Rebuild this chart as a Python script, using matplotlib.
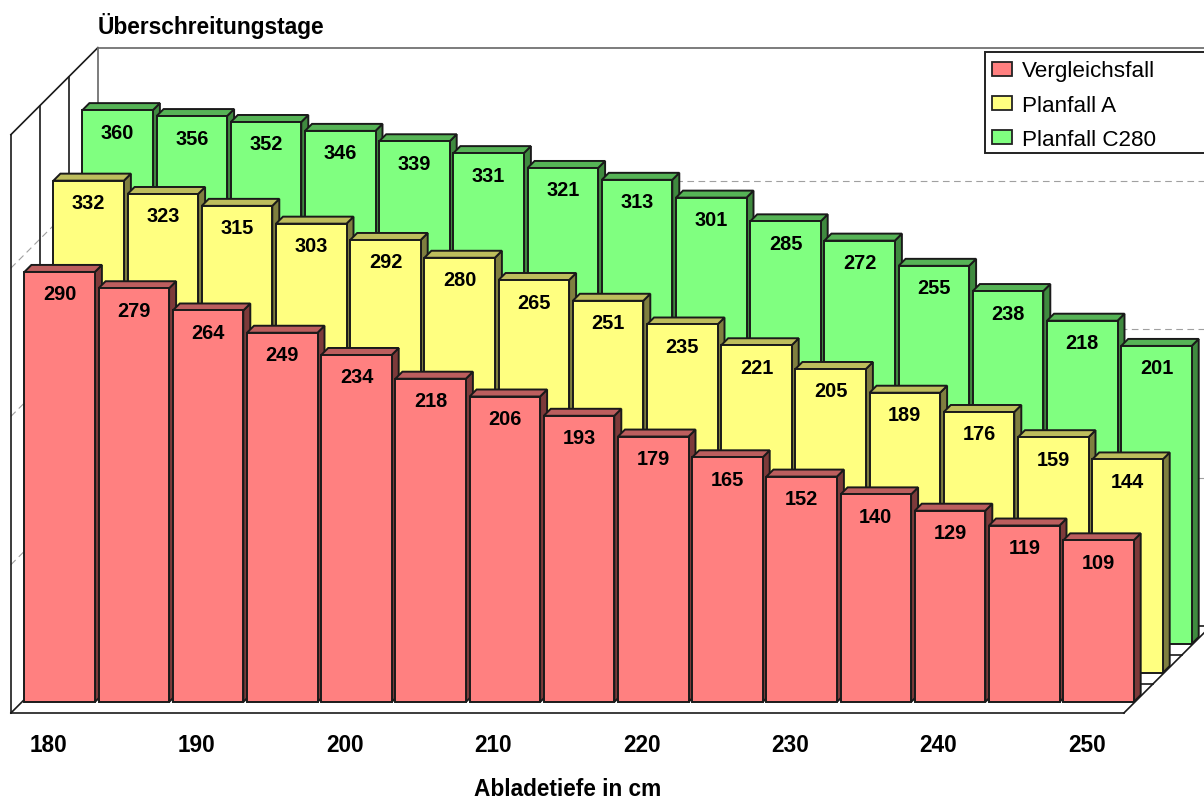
import matplotlib
matplotlib.use('Agg')
import matplotlib.pyplot as plt
from matplotlib.patches import Polygon, Rectangle

plt.rcParams['font.family'] = ['Liberation Sans', 'DejaVu Sans']

# chart values
depths_cm = [180, 185, 190, 195, 200, 205, 210, 215, 220, 225, 230, 235, 240, 245, 250]
vergleichsfall = [290, 279, 264, 249, 234, 218, 206, 193, 179, 165, 152, 140, 129, 119, 109]
planfall_a = [332, 323, 315, 303, 292, 280, 265, 251, 235, 221, 205, 189, 176, 159, 144]
planfall_c280 = [360, 356, 352, 346, 339, 331, 321, 313, 301, 285, 272, 255, 238, 218, 201]
series_names = ['Vergleichsfall', 'Planfall A', 'Planfall C280']
grid_values = [100, 200, 300]
y_top = 390

# pixel sizes of one category and one day on the sheet
W, H = 1204, 801
px_cat = 74.2
px_day = 1.483
x0_px, y0_px = 48, 713

colors = ['#FF8080', '#FFFF80', '#80FF80']
top_colors = ['#BC5E5E', '#BDBD5C', '#56B356']
side_colors = ['#7D3A3A', '#7F7F3F', '#3F8A3F']
edge = '#1a1a1a'


def dx(px):
    return px / px_cat


def dy(px):
    return px / px_day


fig = plt.figure(figsize=(W / 100, H / 100), dpi=100, facecolor='white')
ax = fig.add_axes([0, 0, 1, 1])
ax.set_xlim(-dx(x0_px), dx(W - x0_px))
ax.set_ylim(-dy(H - y0_px), dy(y0_px))
ax.axis('off')

left = -0.5
n = len(depths_cm)
right = left + n
depth = 29  # one row of bars, in pixels

# walls and floor
wall = dict(color='#1a1a1a', lw=1.2, zorder=0.5)
back = dict(color='#666666', lw=1.2, zorder=0.5)
dash = dict(color='#a0a0a0', lw=0.8, ls=(0, (6, 4)), zorder=0.4)
for g in grid_values:
    ax.plot([left, left + dx(3 * depth)], [g, g + dy(3 * depth)], **dash)
    ax.plot([left + dx(3 * depth), right + dx(3 * depth)], [g + dy(3 * depth)] * 2, **dash)
ax.plot([left, left], [0, y_top], **wall)
ax.plot([left, left + dx(3 * depth)], [y_top, y_top + dy(3 * depth)], **wall)
ax.plot([left + dx(3 * depth), right + dx(3 * depth)], [y_top + dy(3 * depth)] * 2, **back)
ax.plot([left + dx(3 * depth)] * 2, [dy(3 * depth), y_top + dy(3 * depth)], **back)
for row in [1, 2]:
    ax.plot([left + dx(row * depth)] * 2, [dy(row * depth), y_top + dy(row * depth)], **wall)
for row in [1, 2, 3]:
    ax.plot([left + dx(row * depth), right + dx(row * depth)], [dy(row * depth)] * 2, **wall)
ax.plot([left, right], [0, 0], **wall)
ax.plot([left, left + dx(3 * depth)], [0, dy(3 * depth)], **wall)
ax.plot([right, right + dx(3 * depth)], [0, dy(3 * depth)], **wall)

# bars, back row first
bar_w = dx(70.5)
skew = 7
line = 1.4
rows = [vergleichsfall, planfall_a, planfall_c280]
for row in [2, 1, 0]:
    base = dy(11 + row * depth)
    for i, v in enumerate(rows[row]):
        xl = i + left + dx(13.5 + row * depth)
        xr = xl + bar_w
        top = base + v
        ax.add_patch(Polygon([(xr, base), (xr + dx(skew), base + dy(skew)),
                              (xr + dx(skew), top + dy(skew)), (xr, top)],
                             facecolor=side_colors[row], edgecolor=edge, lw=line, zorder=1))
        ax.add_patch(Polygon([(xl, top), (xl + dx(skew), top + dy(skew)),
                              (xr + dx(skew), top + dy(skew)), (xr, top)],
                             facecolor=top_colors[row], edgecolor=edge, lw=line, zorder=1))
        ax.bar(xl + bar_w / 2, v, width=bar_w, bottom=base, color=colors[row],
               edgecolor=edge, lw=line, zorder=1)
        ax.text(xl + bar_w / 2, top - dy(23), str(v), ha='center', va='center',
                fontsize=14.4, fontweight='bold', color='black', zorder=5)

# every second depth is labelled
for i, d in enumerate(depths_cm):
    if i % 2 == 0:
        ax.text(i, -dy(32), str(d), ha='center', va='center', fontsize=16.3,
                fontweight='bold', color='black')

# legend and titles on a sheet in pixels
over = fig.add_axes([0, 0, 1, 1])
over.set_xlim(0, W)
over.set_ylim(H, 0)
over.axis('off')
over.patch.set_alpha(0)
over.add_patch(Rectangle((985, 52), 240, 101, facecolor='white', edgecolor='#222222', lw=1.4))
for k, name in enumerate(series_names):
    over.add_patch(Rectangle((992, 62 + 34 * k), 20, 14, facecolor=colors[k],
                             edgecolor='#222222', lw=1.3))
    over.text(1022, 72 + 34 * k, name, ha='left', va='center', fontsize=16.2, color='black')
over.text(98, 26, 'Überschreitungstage', ha='left', va='center', fontsize=16.4, fontweight='bold')
over.text(568, 790, 'Abladetiefe in cm', ha='center', va='center', fontsize=16.3, fontweight='bold')

fig.savefig('out.png', dpi=100)
